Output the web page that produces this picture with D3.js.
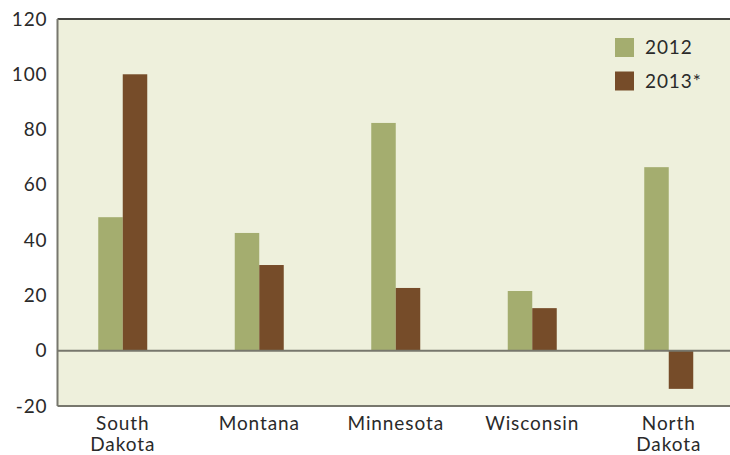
<!DOCTYPE html>
<html>
<head>
<meta charset="utf-8">
<script src="https://cdn.jsdelivr.net/npm/d3@7"></script>
<style>
  html, body { margin: 0; padding: 0; background: #ffffff; }
  svg { display: block; }
  text { font-family: "Lato", "DejaVu Sans", sans-serif; fill: #2a2a2a; letter-spacing: 0.9px; }
</style>
</head>
<body>
<svg id="chart" width="730" height="455"></svg>
<script>
// Categories and series values
const states = [["South", "Dakota"], ["Montana"], ["Minnesota"], ["Wisconsin"], ["North", "Dakota"]];
const seriesNames = ["2012", "2013*"];
const values2012 = [48.3, 42.6, 82.4, 21.6, 66.4];
const values2013 = [100, 31, 22.7, 15.4, -13.8];
const yTicks = [-20, 0, 20, 40, 60, 80, 100, 120];

const colors = ["#a4ad6f", "#764c29"];
const svg = d3.select("#chart");

const plotLeft = 57.5, plotTop = 19, plotBottom = 406, plotRight = 738;
const keys = states.map(s => s.join(" "));

const x = d3.scaleBand().domain(keys).range([54.5, 737]).padding(0);
const xs = d3.scaleBand().domain(seriesNames).range([0, 49]).padding(0);
const y = d3.scaleLinear().domain([-20, 120]).range([plotBottom, plotTop]);

// plot background
svg.append("rect")
  .attr("x", plotLeft).attr("y", plotTop)
  .attr("width", plotRight - plotLeft).attr("height", plotBottom - plotTop)
  .attr("fill", "#eef0dc");

// bars
const rows = keys.map((k, i) => ({ key: k, vals: [values2012[i], values2013[i]] }));
const g = svg.append("g");
rows.forEach(r => {
  const cx = x(r.key) + x.bandwidth() / 2 - 24.5;
  r.vals.forEach((v, j) => {
    g.append("rect")
      .attr("x", cx + xs(seriesNames[j]))
      .attr("width", xs.bandwidth())
      .attr("y", y(Math.max(0, v)))
      .attr("height", Math.abs(y(v) - y(0)))
      .attr("fill", colors[j]);
  });
});

// frame and zero line
svg.append("line").attr("x1", plotLeft).attr("x2", plotRight).attr("y1", plotTop).attr("y2", plotTop)
  .attr("stroke", "#444440").attr("stroke-width", 2);
svg.append("line").attr("x1", plotLeft).attr("x2", plotRight).attr("y1", plotBottom).attr("y2", plotBottom)
  .attr("stroke", "#77776d").attr("stroke-width", 2);
svg.append("line").attr("x1", plotLeft).attr("x2", plotRight).attr("y1", y(0)).attr("y2", y(0))
  .attr("stroke", "#77776d").attr("stroke-width", 2);
svg.append("line").attr("x1", plotLeft).attr("x2", plotLeft).attr("y1", plotTop).attr("y2", plotBottom)
  .attr("stroke", "#77776d").attr("stroke-width", 2);

// y axis labels (plain hyphen for negatives)
const yAxis = d3.axisLeft(y).tickValues(yTicks).tickSize(0).tickPadding(10).tickFormat(d => String(d));
const ya = svg.append("g").attr("transform", `translate(${plotLeft},0)`).call(yAxis);
ya.select(".domain").remove();
ya.selectAll("text").style("font-size", "19px").style("font-family", "Lato, 'DejaVu Sans', sans-serif").attr("fill", "#2a2a2a");

// x category labels
const xl = svg.append("g");
rows.forEach((r, i) => {
  const t = xl.append("text")
    .attr("x", x(r.key) + x.bandwidth() / 2)
    .attr("y", 430)
    .attr("text-anchor", "middle")
    .style("font-size", "19px");
  states[i].forEach((line, li) => {
    t.append("tspan").attr("x", x(r.key) + x.bandwidth() / 2).attr("dy", li === 0 ? 0 : 21).text(line);
  });
});

// legend
const lg = svg.append("g");
seriesNames.forEach((name, i) => {
  lg.append("rect").attr("x", 615).attr("y", 38 + i * 33.5).attr("width", 19).attr("height", 19)
    .attr("fill", colors[i]);
  lg.append("text").attr("x", 645).attr("y", 47.5 + i * 33.5).attr("dy", "0.35em")
    .style("font-size", "19px").text(name);
});
</script>
</body>
</html>
